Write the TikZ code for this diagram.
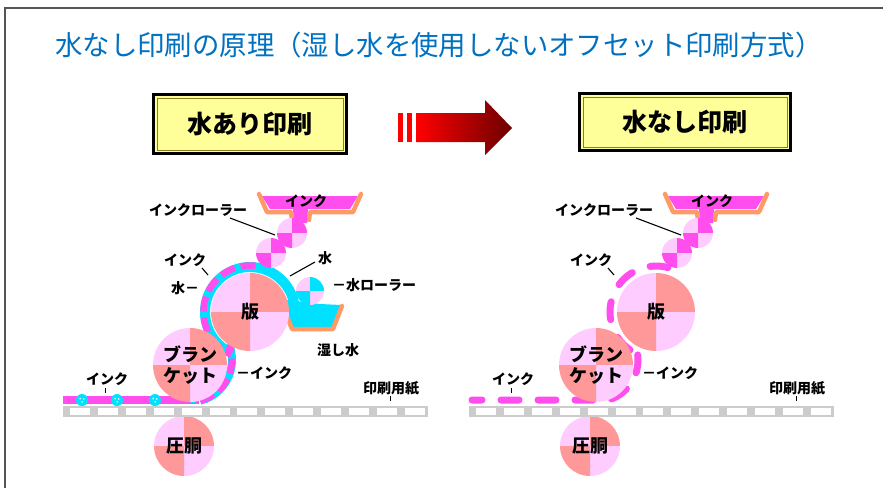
\documentclass[tikz,border=0pt]{standalone}
\usepackage{fontspec}
\setmainfont{Noto Sans CJK JP}
\usetikzlibrary{calc}

\definecolor{inkmag}{HTML}{FF4DEE}
\definecolor{pinklt}{HTML}{FFCCFF}
\definecolor{salmon}{HTML}{FF9999}
\definecolor{water}{HTML}{00E1FF}
\definecolor{trayor}{HTML}{FF9966}
\definecolor{papergray}{HTML}{CCCCCC}
\definecolor{titleblue}{HTML}{0070C0}
\definecolor{boxyellow}{HTML}{FFFF99}
\definecolor{boxline}{HTML}{8C7E1E}
\definecolor{framegray}{HTML}{555555}

\tikzset{
  lbl/.style={font=\fontsize{14}{16}\selectfont\bfseries, inner sep=0pt, text=black},
  cyltext/.style={font=\fontsize{18}{21}\selectfont\bfseries, align=center},
  leader/.style={draw=black, line width=1.1pt},
  tray/.style={draw=trayor, line width=4.5pt, line cap=round, line join=round},
  headbox/.style={draw=black, line width=3pt, fill=boxyellow, inner sep=0pt,
                  font=\fontsize{25}{28}\selectfont\bfseries},
  speck/.style={fill=white},
}

% roller or cylinder split into four quarters, label on top
% #1 name, #2 x, #3 y, #4 radius, #5 top-left/bottom-right colour, #6 top-right/bottom-left colour, #7 label
\newcommand{\quadroll}[7]{%
  \fill[#5] (#2,#3) -- ++(180:#4) arc[start angle=180, end angle=270, radius=#4] -- cycle;
  \fill[#6] (#2,#3) -- ++(270:#4) arc[start angle=270, end angle=360, radius=#4] -- cycle;
  \fill[#5] (#2,#3) -- ++(0:#4) arc[start angle=0, end angle=90, radius=#4] -- cycle;
  \fill[#6] (#2,#3) -- ++(90:#4) arc[start angle=90, end angle=180, radius=#4] -- cycle;
  \node[circle, inner sep=0pt, minimum size={2*#4pt}, cyltext] (#1) at (#2,#3) {#7};
}

% water droplet sitting on the ink film
\newcommand{\droplet}[3]{% x, y, radius
  \fill[water] (#1,#2) circle[radius=#3];
  \fill[speck] ($(#1,#2)+(-1.8,-1.4)$) circle[radius=0.9];
  \fill[speck] ($(#1,#2)+(1.7,-1.0)$) circle[radius=0.9];
  \fill[speck] ($(#1,#2)+(0.2,1.8)$) circle[radius=0.9];
}

% parts shared by both presses: fountain, rollers, cylinders, paper and labels
\newcommand{\pressunit}[1]{%
  % ink fountain
  \fill[inkmag] (262,196) -- (358,196) -- (350,209) -- (308,209) -- (307,223)
                -- (294,223) -- (293,209) -- (270,209) -- cycle;
  \draw[tray] (259,194) -- (267,212) -- (291,212) -- (292,220);
  \draw[tray] (361,194) -- (353,212) -- (310,212) -- (309,220);
  \node[lbl] (#1-fount) at (306,201) {インク};
  % ink rollers
  \quadroll{#1-inkA}{292}{233}{15}{pinklt}{inkmag}{}
  \quadroll{#1-inkB}{271}{253}{15}{pinklt}{inkmag}{}
  % plate, blanket and impression cylinders
  \quadroll{#1-plate}{250}{312}{39}{pinklt}{salmon}{版}
  \quadroll{#1-blanket}{190}{365}{37}{pinklt}{salmon}{ブラン\\ケット}
  \quadroll{#1-imp}{184}{446}{30}{pinklt}{salmon}{圧胴}
  % paper web
  \fill[papergray] (63,406) rectangle (428,417);
  \foreach \k in {0,...,12}
    \fill[white] ({70+27.9*\k},407.6) rectangle ({90+27.9*\k},415.4);
  % labels and leaders
  \node[lbl] (#1-rollerlbl) at (198,210) {インクローラー};
  \coordinate (#1-rl-a) at (230,218);
  \coordinate (#1-rl-b) at (275,235);
  \draw[leader] (#1-rl-a) -- (#1-rl-b);
  \node[lbl] (#1-platelbl) at (185,260) {インク};
  \coordinate (#1-pl-a) at (202,268);
  \coordinate (#1-pl-b) at (208,275);
  \draw[leader] (#1-pl-a) -- (#1-pl-b);
  \node[lbl] (#1-blanketlbl) at (264,373) {－インク};
  \node[lbl] (#1-paperink) at (107,379) {インク};
  \coordinate (#1-pi-a) at (105,388);
  \coordinate (#1-pi-b) at (105,393);
  \draw[leader, line width=0.8pt] (#1-pi-a) -- (#1-pi-b);
  \node[lbl] (#1-paperlbl) at (391,388) {印刷用紙};
  \coordinate (#1-pp-a) at (390,396);
  \coordinate (#1-pp-b) at (390,401);
  \draw[leader, line width=0.8pt] (#1-pp-a) -- (#1-pp-b);
}

\begin{document}
\begin{tikzpicture}[x=1pt, y=-1pt]
\useasboundingbox (0,0) rectangle (883,488);

% frame
\draw[framegray, line width=1.8pt] (4,8) -- (883,8);
\draw[framegray, line width=1.8pt] (5,8) -- (5,488);

% title
\node[anchor=west, inner sep=0pt, text=titleblue, font=\fontsize{27.4}{30}\selectfont]
  (title) at (55,45) {水なし印刷の原理（湿し水を使用しないオフセット印刷方式）};

% headings
\node[headbox, minimum width=193pt, minimum height=59pt] (hd-wet) at (250,124) {水あり印刷};
\draw[boxline, line width=1pt] ($(hd-wet.south west)+(5,-5)$) rectangle ($(hd-wet.north east)+(-5,5)$);
\node[headbox, minimum width=211pt, minimum height=57pt] (hd-dry) at (685,122) {水なし印刷};
\draw[boxline, line width=1pt] ($(hd-dry.south west)+(5,-5)$) rectangle ($(hd-dry.north east)+(-5,5)$);

% transition arrow
\fill[red] (398,113) rectangle (403,142);
\fill[red] (407,113) rectangle (412,142);
\shade[left color=red, middle color=red!82!black, right color=red!42!black]
  (416,113) -- (485,113) -- (485,100) -- (512,128) -- (485,155) -- (485,142) -- (416,142) -- cycle;

% ---------- conventional offset press (with dampening water) ----------
% water film round the blanket and the plate, down into the trough
\draw[water, line width=8pt] (190,360) ++(76:42) arc[start angle=76, end angle=-18, radius=42];
\draw[water, line width=10pt] ($(250,312)+(118:45)$) arc[start angle=118, end angle=350, radius=45] -- (295,318);
\fill[water] (287,300) -- (290,327) -- (333,327) -- (341,305) -- (320,304) -- cycle;
\draw[tray] (286,314) -- (292,329) -- (333,329) -- (342,306);
% ink carried on the water film
\draw[inkmag, line width=6.5pt, dash pattern=on 15pt off 6pt]
  (190,360) ++(76:42) arc[start angle=76, end angle=-18, radius=42]
  -- ($(250,312)+(118:46.5)$) arc[start angle=118, end angle=278, radius=46.5];
% ink on the paper with water droplets
\draw[inkmag, line width=8pt] (63,400) -- (199,400);
\droplet{82}{400}{6}
\droplet{117}{400}{6}
\droplet{155}{400}{6}
\fill[water] (193,399) circle[radius=4.5];

\pressunit{L}

% dampening roller and its labels
\quadroll{L-waterroll}{310}{291}{14}{pinklt}{water}{}
\node[lbl] (L-waterlbl) at (325,258) {水};
\coordinate (L-wl-a) at (290,276);
\coordinate (L-wl-b) at (315,262);
\draw[leader] (L-wl-a) -- (L-wl-b);
\node[lbl] (L-waterlbl2) at (185,288) {水－};
\node[lbl] (L-rolllbl) at (374,285) {－水ローラー};
\node[lbl] (L-dampening) at (338,350) {湿し水};

% ---------- waterless offset press ----------
\begin{scope}[xshift=406pt]
  \draw[inkmag, line width=7pt, line cap=round, dash pattern=on 18pt off 19pt, dash phase=8pt]
    (66,400) -- (197,400) -- ($(190,360)+(76:42)$) arc[start angle=76, end angle=-18, radius=42]
    -- ($(250,312)+(118:46)$) arc[start angle=118, end angle=285, radius=46];
  \pressunit{R}
\end{scope}
\end{tikzpicture}
\end{document}
